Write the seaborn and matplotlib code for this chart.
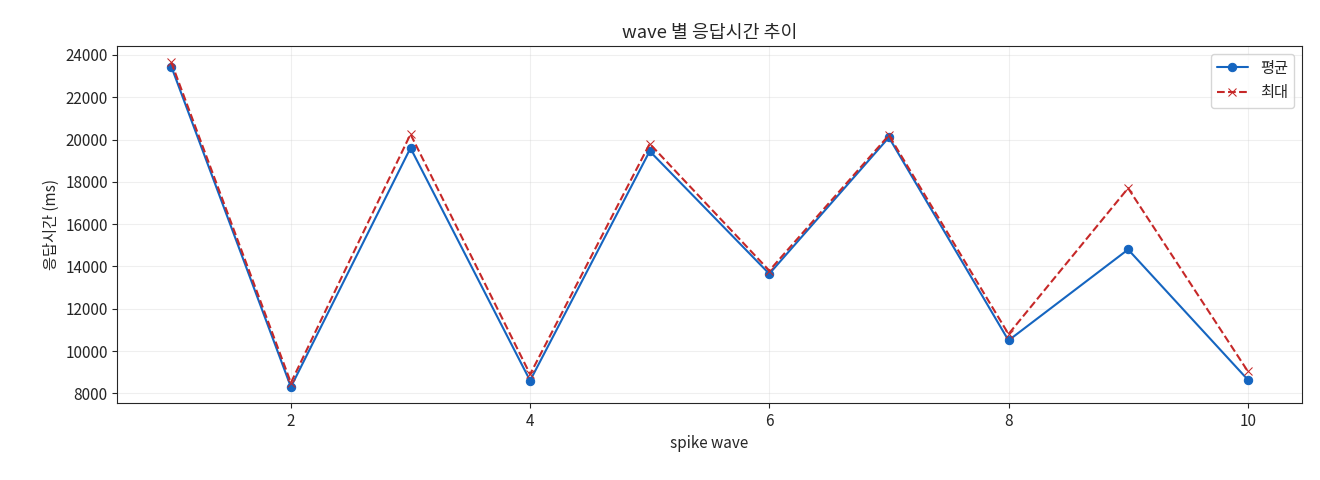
import matplotlib
matplotlib.use("Agg")
import matplotlib.pyplot as plt
import pandas as pd
import seaborn as sns

waves = [1, 2, 3, 4, 5, 6, 7, 8, 9, 10]
avg_ms = [23450, 8300, 19600, 8600, 19450, 13650, 20100, 10500, 14800, 8650]
max_ms = [23650, 8500, 20250, 8900, 19800, 13800, 20200, 10800, 17700, 9050]

df = pd.DataFrame({"wave": waves, "평균": avg_ms, "최대": max_ms})

sns.set_style("ticks")
plt.rcParams['font.family'] = ['Noto Sans CJK KR', 'DejaVu Sans']
plt.rcParams['font.size'] = 11

fig, ax = plt.subplots(figsize=(13.2, 4.8), dpi=100)
sns.lineplot(data=df, x="wave", y="평균", marker="o", color="#1565c0",
             markeredgecolor="#1565c0", markersize=6, label="평균", ax=ax)
sns.lineplot(data=df, x="wave", y="최대", marker="x", color="#c62828",
             linestyle="--", markeredgecolor="#c62828", markersize=6, label="최대", ax=ax)

ax.set_title("wave 별 응답시간 추이")
ax.set_xlabel("spike wave")
ax.set_ylabel("응답시간 (ms)")
ax.set_yticks(range(8000, 24001, 2000))
ax.grid(True, alpha=0.3)
ax.legend(loc="upper right")
fig.subplots_adjust(left=0.089, right=0.986, top=0.904, bottom=0.16)
fig.savefig("out.png")
